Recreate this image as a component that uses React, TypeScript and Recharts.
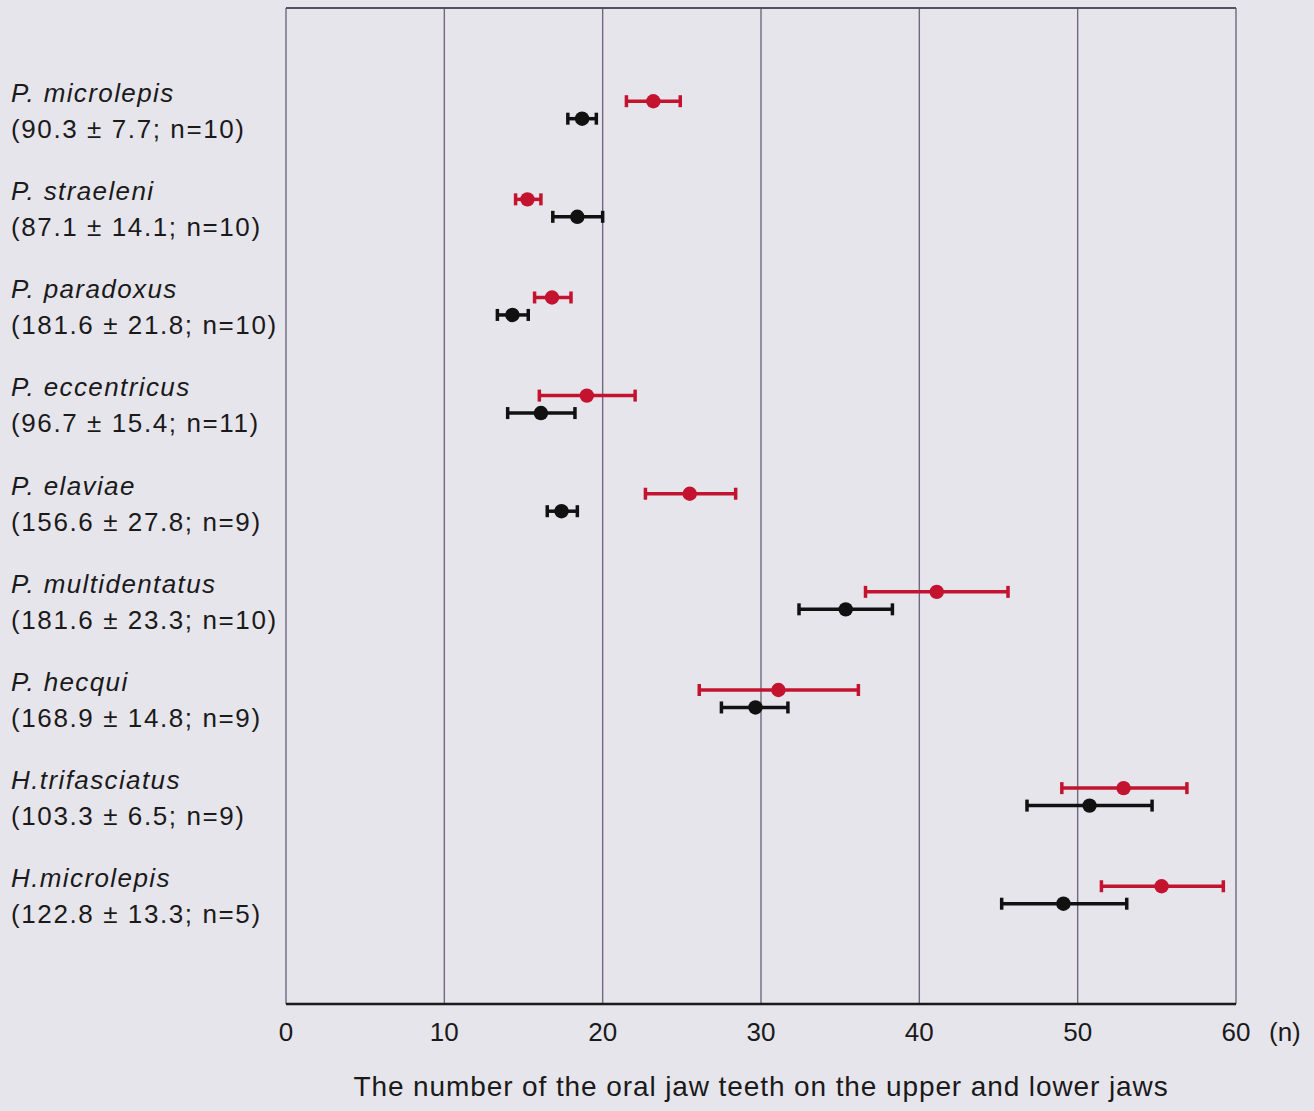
import React from "react";
import { CartesianGrid, ErrorBar, ReferenceLine, Scatter, ScatterChart, XAxis, YAxis } from "recharts";

const species = [
  "P. microlepis",
  "P. straeleni",
  "P. paradoxus",
  "P. eccentricus",
  "P. elaviae",
  "P. multidentatus",
  "P. hecqui",
  "H.trifasciatus",
  "H.microlepis",
];
const sizes = [
  "(90.3 ± 7.7; n=10)",
  "(87.1 ± 14.1; n=10)",
  "(181.6 ± 21.8; n=10)",
  "(96.7 ± 15.4; n=11)",
  "(156.6 ± 27.8; n=9)",
  "(181.6 ± 23.3; n=10)",
  "(168.9 ± 14.8; n=9)",
  "(103.3 ± 6.5; n=9)",
  "(122.8 ± 13.3; n=5)",
];

// red series (upper row of each pair)
const redMean = [23.2, 15.25, 16.8, 19.0, 25.5, 41.1, 31.1, 52.9, 55.3];
const redLow = [21.5, 14.5, 15.7, 16.0, 22.7, 36.6, 26.1, 49.0, 51.5];
const redHigh = [24.9, 16.1, 18.0, 22.05, 28.4, 45.6, 36.15, 56.9, 59.2];

// black series (lower row of each pair)
const blackMean = [18.7, 18.4, 14.3, 16.1, 17.4, 35.35, 29.65, 50.75, 49.1];
const blackLow = [17.8, 16.85, 13.35, 14.0, 16.5, 32.4, 27.5, 46.8, 45.2];
const blackHigh = [19.6, 20.0, 15.3, 18.25, 18.4, 38.3, 31.7, 54.7, 53.1];

const xTicks = [0, 10, 20, 30, 40, 50, 60];

const FONT = "Liberation Sans, Arial, Helvetica, sans-serif";
const RED = "#c3132f";
const BLACK = "#111111";
const GRIDC = "#6f6880";
const BG = "#e7e5ec";
const TXT = "#1a1a1a";

// row layout (in y-axis units, top = 0)
const RED_OFF = 0.95;
const BLACK_OFF = 1.128;
const LABEL_OFF = 1.04;

const redData = species.map((s, i) => ({
  name: s,
  x: redMean[i],
  y: i + RED_OFF,
  err: [redMean[i] - redLow[i], redHigh[i] - redMean[i]],
}));
const blackData = species.map((s, i) => ({
  name: s,
  x: blackMean[i],
  y: i + BLACK_OFF,
  err: [blackMean[i] - blackLow[i], blackHigh[i] - blackMean[i]],
}));
const yTicks = species.map((_, i) => i + LABEL_OFF);

function SpeciesTick(props: any) {
  const { y, payload } = props;
  const i = Math.round(payload.value - LABEL_OFF);
  return (
    <g>
      <text x={11} y={y - 8} fontFamily={FONT} fontSize={26} fontStyle="italic" letterSpacing={1.4} fill={TXT}>
        {species[i]}
      </text>
      <text x={11} y={y + 28} fontFamily={FONT} fontSize={26} letterSpacing={1.6} fill={TXT}>
        {sizes[i]}
      </text>
    </g>
  );
}

function XTick(props: any) {
  const { x, y, payload } = props;
  return (
    <g>
      <text x={x} y={y + 29} textAnchor="middle" fontFamily={FONT} fontSize={26} fill={TXT}>
        {payload.value}
      </text>
      {payload.value === 60 && (
        <text x={x + 33} y={y + 29} fontFamily={FONT} fontSize={26} fill={TXT}>
          (n)
        </text>
      )}
    </g>
  );
}

const dot = (color: string) => (p: any) => <circle cx={p.cx} cy={p.cy} r={7.2} fill={color} />;

export default function App() {
  return (
    <div style={{ position: "absolute", left: 0, top: 0, width: 1314, height: 1111, background: BG }}>
      <ScatterChart width={1314} height={1111} margin={{ top: 8, right: 78, left: 8, bottom: 7 }}>
        <CartesianGrid horizontal={false} stroke={GRIDC} strokeWidth={1.4} />
        <XAxis
          type="number"
          dataKey="x"
          domain={[0, 60]}
          ticks={xTicks}
          tick={<XTick />}
          tickLine={false}
          height={100}
          axisLine={{ stroke: "#1a1a1a", strokeWidth: 2.5 }}
          label={{
            content: (lp: any) => {
              const vb = lp.viewBox;
              return (
                <text
                  x={vb.x + vb.width / 2}
                  y={vb.y + 92}
                  textAnchor="middle"
                  fontFamily={FONT}
                  fontSize={28}
                  letterSpacing={0.9}
                  fill={TXT}
                >
                  The number of the oral jaw teeth on the upper and lower jaws
                </text>
              );
            },
          }}
        />
        <YAxis
          type="number"
          dataKey="y"
          domain={[0, 10.15]}
          reversed
          ticks={yTicks}
          tick={<SpeciesTick />}
          tickLine={false}
          axisLine={false}
          width={278}
          interval={0}
        />
        <ReferenceLine y={0} stroke="#55505e" strokeWidth={2} ifOverflow="visible" />
        <Scatter data={redData} fill={RED} shape={dot(RED)} isAnimationActive={false}>
          <ErrorBar dataKey="err" direction="x" width={6} stroke={RED} strokeWidth={3.5} isAnimationActive={false} />
        </Scatter>
        <Scatter data={blackData} fill={BLACK} shape={dot(BLACK)} isAnimationActive={false}>
          <ErrorBar dataKey="err" direction="x" width={6} stroke={BLACK} strokeWidth={3.5} isAnimationActive={false} />
        </Scatter>
      </ScatterChart>
    </div>
  );
}
